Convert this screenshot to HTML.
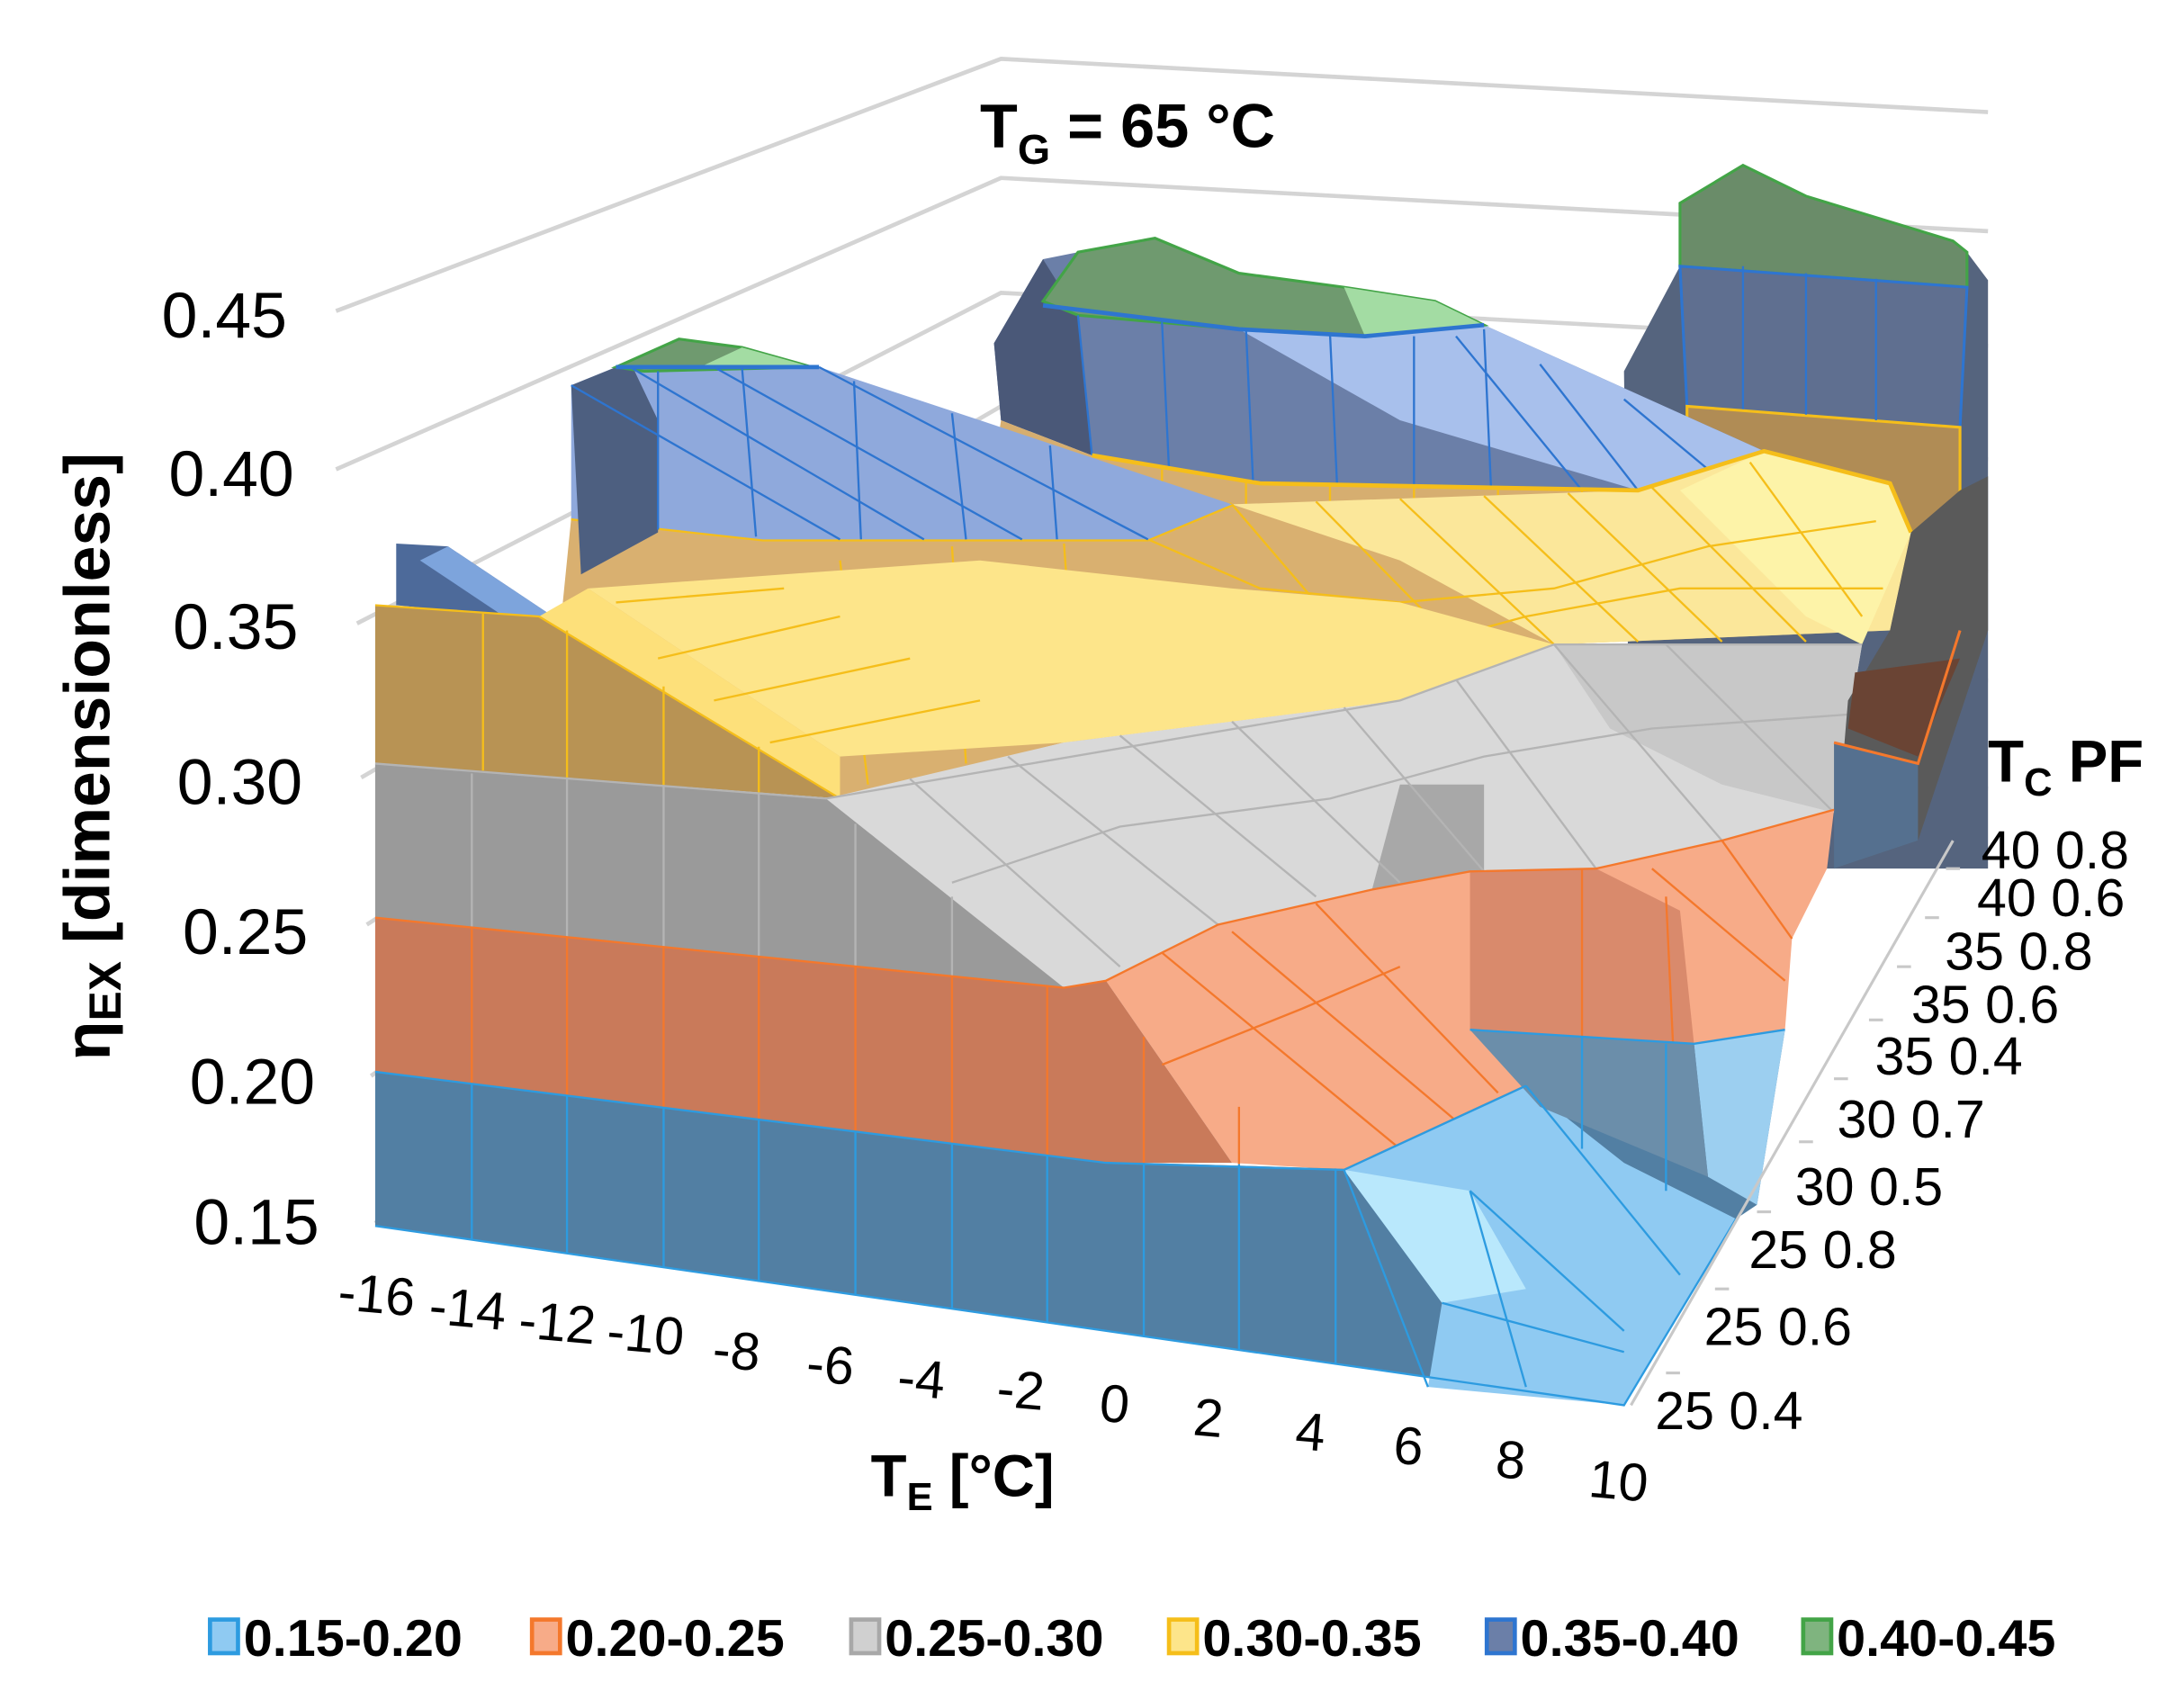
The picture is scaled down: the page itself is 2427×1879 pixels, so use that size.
<!DOCTYPE html>
<html><head><meta charset="utf-8"><style>
html,body{margin:0;padding:0;background:#fff;}
svg{display:block}
text{font-family:"Liberation Sans",sans-serif;fill:#000}
</style></head><body>
<svg width="2427" height="1879" viewBox="0 0 1560 1207" preserveAspectRatio="none" xmlns="http://www.w3.org/2000/svg">
<rect width="1560" height="1207" fill="#fff"/>
<g stroke="#d4d4d4" stroke-width="3" fill="none">
<polyline points="240,222 715,42 1420,80"/>
<polyline points="240,335 715,127 1420,165"/>
<polyline points="255,445 715,209 1420,247"/>
<polyline points="258,555 715,290 1420,328"/>
<polyline points="262,660 715,370 1420,408"/>
<polyline points="265,768 715,448 1420,486"/>
<polyline points="268,873 715,525 1420,563"/>
</g>
<!-- right back tower -->
<polygon points="1160,265 1200,190 1200,145 1245,118 1290,140 1395,172 1405,180 1420,200 1420,620 1165,620" fill="#55647e"/>
<polygon points="1200,145 1245,118 1290,140 1395,172 1405,180 1405,205 1200,190" fill="#6a8c69" stroke="#43a447" stroke-width="2"/>
<polygon points="1200,190 1405,205 1400,305 1205,290" fill="#5f6f90" stroke="#2e75d0" stroke-width="2"/>
<polygon points="1205,290 1400,305 1400,420 1205,420" fill="#b08c55" stroke="#f5be1a" stroke-width="2"/>
<g stroke="#2e75d0" stroke-width="1.5"><line x1="1245" y1="190" x2="1245" y2="292"/><line x1="1290" y1="195" x2="1290" y2="296"/><line x1="1340" y1="199" x2="1340" y2="300"/></g>
<!-- middle ridge -->
<polygon points="710,245 745,185 770,180 825,170 885,195 960,205 1025,215 1060,232 1260,322 1170,350 900,345 780,325 715,300" fill="#6b7fa8"/>
<polygon points="710,245 745,185 770,225 780,325 715,300" fill="#4a5878"/>
<polygon points="885,235 1060,232 1260,322 1170,350 1000,300" fill="#a8c0ec"/>
<polygon points="770,180 825,170 885,195 960,205 1025,215 1060,232 975,240 885,235 770,225 745,215" fill="#6f9a6f" stroke="#43a447" stroke-width="2"/>
<polygon points="960,205 1025,215 1060,232 975,240" fill="#a3dca3"/>
<polyline points="745,218 885,235 975,240 1060,232" fill="none" stroke="#2e75d0" stroke-width="3"/>
<g stroke="#2e75d0" stroke-width="1.5" fill="none">
<line x1="770" y1="225" x2="780" y2="325"/><line x1="830" y1="230" x2="835" y2="335"/><line x1="890" y1="235" x2="895" y2="343"/><line x1="950" y1="238" x2="955" y2="345"/><line x1="1010" y1="240" x2="1010" y2="346"/><line x1="1060" y1="235" x2="1065" y2="348"/>
<line x1="1040" y1="240" x2="1130" y2="350"/><line x1="1100" y1="260" x2="1170" y2="350"/><line x1="1160" y1="285" x2="1220" y2="335"/>
</g>
<!-- tan wall under middle ridge -->
<polygon points="715,300 780,325 900,345 1170,350 1260,322 1270,420 880,420 700,400" fill="#d6ae70"/>
<g stroke="#f5be1a" stroke-width="1.5"><line x1="830" y1="335" x2="830" y2="400"/><line x1="890" y1="344" x2="890" y2="400"/><line x1="950" y1="346" x2="950" y2="400"/><line x1="1010" y1="347" x2="1010" y2="400"/><line x1="1070" y1="348" x2="1070" y2="400"/><line x1="1130" y1="349" x2="1130" y2="400"/></g>
<!-- mid yellow wall & surface -->
<polygon points="408,370 545,385 820,385 880,360 1170,350 1260,322 1350,345 1365,380 1350,450 1110,460 1000,500 760,530 600,570 400,450" fill="#d9b070"/>
<polygon points="880,360 1170,350 1260,322 1350,345 1365,380 1350,450 1110,460 1000,400" fill="#fbe79a"/>
<polygon points="1200,350 1260,322 1350,345 1365,380 1330,460 1290,440" fill="#fdf3a8"/>
<polyline points="408,370 545,385 820,385 880,360" fill="none" stroke="#f5be1a" stroke-width="3"/>
<polyline points="780,325 900,345 1170,350 1260,322 1350,345 1365,380" fill="none" stroke="#f5be1a" stroke-width="3"/>
<g stroke="#f5be1a" stroke-width="1.5" fill="none">
<line x1="880" y1="360" x2="1000" y2="500"/><line x1="940" y1="358" x2="1060" y2="480"/><line x1="1000" y1="356" x2="1110" y2="460"/><line x1="1060" y1="354" x2="1170" y2="458"/><line x1="1120" y1="352" x2="1230" y2="458"/><line x1="1180" y1="348" x2="1290" y2="458"/><line x1="1250" y1="330" x2="1330" y2="440"/>
<polyline points="820,385 900,420 1000,430 1110,420 1220,390 1340,372"/>
<polyline points="760,430 870,470 980,470 1090,440 1200,420 1345,420"/>
<line x1="600" y1="400" x2="620" y2="560"/><line x1="680" y1="390" x2="690" y2="545"/><line x1="760" y1="388" x2="770" y2="528"/>
</g>
<!-- left ridge -->
<polygon points="408,275 450,258 585,262 700,300 880,360 820,385 545,385 408,370" fill="#8fa9dc"/>
<polygon points="408,275 450,258 470,300 470,380 415,410" fill="#4d5f80"/>
<polygon points="440,262 485,242 530,248 580,262 460,265" fill="#6f9a6f" stroke="#43a447" stroke-width="2"/>
<polygon points="530,248 580,262 500,262" fill="#a3dca3"/>
<polyline points="440,262 585,262" fill="none" stroke="#2e75d0" stroke-width="3"/>
<g stroke="#2e75d0" stroke-width="1.5" fill="none">
<line x1="408" y1="275" x2="600" y2="385"/><line x1="450" y1="262" x2="660" y2="385"/><line x1="510" y1="262" x2="730" y2="385"/><line x1="585" y1="262" x2="820" y2="385"/>
<line x1="470" y1="265" x2="470" y2="378"/><line x1="530" y1="262" x2="540" y2="383"/><line x1="610" y1="272" x2="615" y2="385"/><line x1="680" y1="295" x2="690" y2="385"/><line x1="750" y1="318" x2="755" y2="385"/>
</g>
<!-- front-left blue cap & yellow ridge -->
<polygon points="283,388 320,390 395,440 345,438 283,432" fill="#4d6a9a"/>
<polygon points="320,390 395,440 360,440 300,400" fill="#7da4dc"/>
<polygon points="385,440 420,420 600,540 760,530 1000,500 1110,460 1000,430 880,420 700,400 560,410 420,420" fill="#fde58a"/>
<polygon points="268,432 385,440 600,570 268,545" fill="#b89354"/>
<polygon points="385,440 420,420 600,540 600,570" fill="#fde07a"/>
<g stroke="#f5be1a" stroke-width="1.5" fill="none">
<polyline points="268,432 385,440 600,570"/>
<line x1="440" y1="430" x2="560" y2="420"/><line x1="470" y1="470" x2="600" y2="440"/><line x1="510" y1="500" x2="650" y2="470"/><line x1="550" y1="530" x2="700" y2="500"/>
<line x1="345" y1="438" x2="345" y2="550"/><line x1="405" y1="450" x2="405" y2="556"/><line x1="474" y1="490" x2="474" y2="561"/><line x1="542" y1="533" x2="542" y2="566"/>
</g>
<!-- gray -->
<polygon points="590,570 760,530 1000,500 1110,460 1330,460 1310,580 1230,600 1140,620 1050,622 980,635 870,660 790,700 760,705" fill="#d9d9d9"/>
<polygon points="1110,460 1330,460 1310,580 1230,560 1150,520" fill="#c8c8c8"/>
<polygon points="1000,560 1060,560 1060,625 980,635" fill="#a8a8a8"/>
<polygon points="268,545 590,570 760,705 268,655" fill="#9a9a9a"/>
<g stroke="#b4b4b4" stroke-width="1.5" fill="none">
<polyline points="268,545 590,570 1000,500 1110,460 1330,460"/>
<line x1="650" y1="556" x2="800" y2="690"/><line x1="720" y1="540" x2="870" y2="660"/><line x1="800" y1="525" x2="940" y2="640"/><line x1="880" y1="515" x2="1000" y2="630"/><line x1="960" y1="505" x2="1060" y2="622"/><line x1="1040" y1="485" x2="1140" y2="620"/><line x1="1110" y1="460" x2="1230" y2="600"/><line x1="1190" y1="460" x2="1310" y2="580"/>
<polyline points="680,630 800,590 950,570 1060,540 1180,520 1320,510"/>
<line x1="337" y1="552" x2="337" y2="662"/><line x1="405" y1="556" x2="405" y2="669"/><line x1="474" y1="561" x2="474" y2="676"/><line x1="542" y1="566" x2="542" y2="683"/><line x1="611" y1="588" x2="611" y2="690"/><line x1="680" y1="640" x2="680" y2="697"/>
</g>
<!-- right dark tower sliver -->
<polygon points="1320,500 1350,450 1365,380 1400,350 1420,340 1420,450 1370,600 1310,620" fill="#5a5a5a"/>
<polygon points="1325,480 1400,470 1370,540 1320,520" fill="#6a4434"/>
<polygon points="1310,530 1370,545 1370,600 1310,620" fill="#55708f"/>
<polyline points="1310,530 1370,545 1400,450" fill="none" stroke="#f4782c" stroke-width="2"/>
<!-- orange -->
<polygon points="790,700 870,660 980,635 1050,622 1140,620 1230,600 1310,578 1305,620 1280,670 1275,735 1210,745 1050,735 1090,775 1000,820 960,835 880,830" fill="#f7ab88"/>
<polygon points="1050,622 1140,620 1200,650 1210,745 1050,735" fill="#d98a6c"/>
<polygon points="268,655 760,705 790,700 880,830 790,830 268,765" fill="#c97a5a"/>
<g stroke="#f4782c" stroke-width="1.5" fill="none">
<polyline points="268,655 760,705 790,700 870,660 980,635 1050,622 1140,620 1230,600 1310,578"/>
<polyline points="268,765 790,830 960,835 1090,775"/>
<line x1="830" y1="680" x2="1000" y2="820"/><line x1="880" y1="665" x2="1040" y2="800"/><line x1="940" y1="645" x2="1070" y2="780"/><line x1="1230" y1="600" x2="1280" y2="670"/><line x1="1180" y1="620" x2="1275" y2="700"/>
<polyline points="830,760 930,720 1000,690"/>
<line x1="337" y1="662" x2="337" y2="774"/><line x1="405" y1="669" x2="405" y2="782"/><line x1="474" y1="676" x2="474" y2="791"/><line x1="542" y1="683" x2="542" y2="799"/><line x1="611" y1="690" x2="611" y2="808"/><line x1="680" y1="697" x2="680" y2="816"/><line x1="748" y1="704" x2="748" y2="825"/><line x1="817" y1="740" x2="817" y2="831"/><line x1="885" y1="790" x2="885" y2="831"/>
<line x1="1130" y1="620" x2="1130" y2="740"/><line x1="1190" y1="640" x2="1195" y2="745"/>
</g>
<!-- blue front -->
<polygon points="268,765 790,830 960,835 1090,775 1050,735 1210,745 1275,735 1255,860 1240,870 1160,1003 268,875" fill="#527fa3"/>
<polygon points="960,835 1090,775 1160,830 1240,870 1160,1003 1020,990 1030,930" fill="#8fcaf2"/>
<polygon points="960,835 1050,850 1090,920 1030,930" fill="#b9e8fc"/>
<polygon points="1210,745 1275,735 1255,860 1220,840" fill="#9ccff0"/>
<polygon points="1050,735 1210,745 1220,840 1100,790" fill="#6b8eaa"/>
<g stroke="#2d9be0" stroke-width="1.5" fill="none">
<polyline points="268,765 790,830 960,835 1090,775"/>
<polyline points="268,875 1160,1003 1240,870"/>
<polyline points="1050,735 1210,745 1275,735"/>
<line x1="960" y1="835" x2="1020" y2="990"/><line x1="1050" y1="850" x2="1090" y2="990"/><line x1="1090" y1="775" x2="1200" y2="910"/><line x1="1050" y1="850" x2="1160" y2="950"/><line x1="1030" y1="930" x2="1160" y2="965"/>
<line x1="337" y1="774" x2="337" y2="885"/><line x1="405" y1="782" x2="405" y2="895"/><line x1="474" y1="791" x2="474" y2="905"/><line x1="542" y1="799" x2="542" y2="915"/><line x1="611" y1="808" x2="611" y2="924"/><line x1="680" y1="816" x2="680" y2="934"/><line x1="748" y1="825" x2="748" y2="944"/><line x1="817" y1="831" x2="817" y2="954"/><line x1="885" y1="831" x2="885" y2="964"/><line x1="954" y1="834" x2="954" y2="974"/>
<line x1="1130" y1="740" x2="1130" y2="820"/><line x1="1190" y1="745" x2="1190" y2="850"/>
</g>
<g stroke="#c8c8c8" stroke-width="2">
<line x1="1165" y1="1003" x2="1395" y2="600"/>
<line x1="1190" y1="980" x2="1200" y2="980"/><line x1="1225" y1="920" x2="1235" y2="920"/><line x1="1255" y1="865" x2="1265" y2="865"/><line x1="1285" y1="815" x2="1295" y2="815"/><line x1="1310" y1="770" x2="1320" y2="770"/><line x1="1335" y1="728" x2="1345" y2="728"/><line x1="1355" y1="690" x2="1365" y2="690"/><line x1="1375" y1="655" x2="1385" y2="655"/><line x1="1390" y1="620" x2="1400" y2="620"/>
</g>
<text x="700" y="105" font-size="44" font-weight="bold">T<tspan font-size="30" dy="12">G</tspan><tspan dy="-12"> = 65 °C</tspan></text>
<g font-size="46" text-anchor="end">
<text x="205" y="241">0.45</text><text x="210" y="354">0.40</text><text x="213" y="463">0.35</text><text x="216" y="574">0.30</text><text x="220" y="681">0.25</text><text x="225" y="788">0.20</text><text x="228" y="888">0.15</text>
</g>
<text transform="translate(78,540) rotate(-90)" text-anchor="middle" font-size="46" font-weight="bold">η<tspan font-size="32" dy="8">EX</tspan><tspan dy="-8"> [dimensionless]</tspan></text>
<g font-size="38" text-anchor="middle">
<text transform="translate(268,937) rotate(5)">-16</text><text transform="translate(333,947) rotate(5)">-14</text><text transform="translate(397,957) rotate(5)">-12</text><text transform="translate(460,965) rotate(5)">-10</text><text transform="translate(525,977) rotate(5)">-8</text><text transform="translate(592,987) rotate(5)">-6</text><text transform="translate(657,997) rotate(5)">-4</text><text transform="translate(728,1005) rotate(5)">-2</text><text transform="translate(795,1015) rotate(5)">0</text><text transform="translate(862,1025) rotate(5)">2</text><text transform="translate(935,1035) rotate(5)">4</text><text transform="translate(1005,1045) rotate(5)">6</text><text transform="translate(1078,1055) rotate(5)">8</text><text transform="translate(1155,1070) rotate(5)">10</text>
</g>
<text x="622" y="1068" font-size="42" font-weight="bold">T<tspan font-size="28" dy="10">E</tspan><tspan dy="-10"> [°C]</tspan></text>
<g font-size="38" text-anchor="middle">
<text x="1235" y="1020">25 0.4</text><text x="1270" y="960">25 0.6</text><text x="1302" y="905">25 0.8</text><text x="1335" y="860">30 0.5</text><text x="1365" y="812">30 0.7</text><text x="1392" y="767">35 0.4</text><text x="1418" y="730">35 0.6</text><text x="1442" y="692">35 0.8</text><text x="1465" y="654">40 0.6</text><text x="1468" y="620">40 0.8</text>
</g>
<text x="1420" y="558" font-size="42" font-weight="bold">T<tspan font-size="28" dy="10">C</tspan><tspan dy="-10">  PF</tspan></text>
<g font-size="37" font-weight="bold">
<rect x="150" y="1156" width="20" height="24" fill="#8fcaf2" stroke="#2d9be0" stroke-width="3"/><text x="174" y="1182">0.15-0.20</text>
<rect x="380" y="1156" width="20" height="24" fill="#f7ab88" stroke="#f4782c" stroke-width="3"/><text x="404" y="1182">0.20-0.25</text>
<rect x="608" y="1156" width="20" height="24" fill="#d0d0d0" stroke="#a8a8a8" stroke-width="3"/><text x="632" y="1182">0.25-0.30</text>
<rect x="835" y="1156" width="20" height="24" fill="#fde58a" stroke="#f5be1a" stroke-width="3"/><text x="859" y="1182">0.30-0.35</text>
<rect x="1062" y="1156" width="20" height="24" fill="#6b7fa8" stroke="#2e75d0" stroke-width="3"/><text x="1086" y="1182">0.35-0.40</text>
<rect x="1288" y="1156" width="20" height="24" fill="#7fb47f" stroke="#43a447" stroke-width="3"/><text x="1312" y="1182">0.40-0.45</text>
</g>
</svg>
</body></html>
